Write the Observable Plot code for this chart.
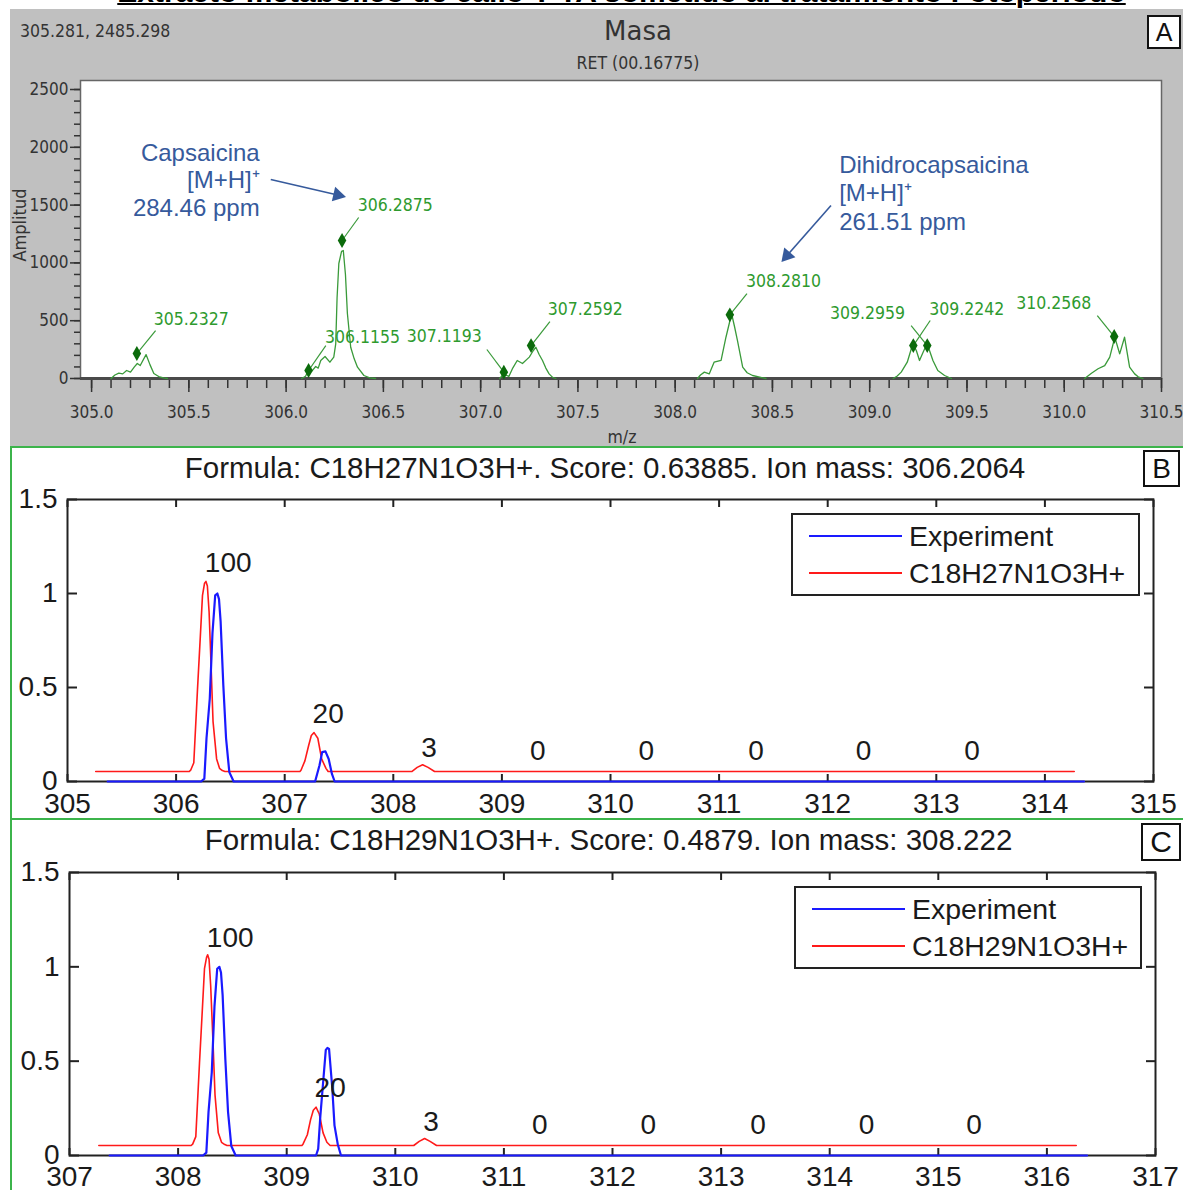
<!DOCTYPE html>
<html><head><meta charset="utf-8">
<script src="https://cdn.jsdelivr.net/npm/d3@7"></script>
<script src="https://cdn.jsdelivr.net/npm/@observablehq/plot@0.6"></script>
<style>
body{margin:0;background:#fff;}
#root{position:relative;width:1183px;height:1190px;overflow:hidden;background:#fff;font-family:"Liberation Sans",Arial,sans-serif;}
.abs{position:absolute;}
.narrow{font-family:"Liberation Sans Narrow","DejaVu Sans Condensed",sans-serif;}
.arial{font-family:"Liberation Sans",Arial,sans-serif;}
svg{overflow:visible;}
</style></head><body><div id="root"></div>
<script>
// ---------- Panel A : mass spectrum ----------
const specMz = [
 [305.10,305.12,305.14,305.16,305.18,305.20,305.22,305.235,305.25,305.28,305.30,305.32,305.345,305.37,305.39],
 [306.08,306.10,306.114,306.13,306.152,306.165,306.178,306.20,306.225,306.245,306.255,306.262,306.271,306.285,306.294,306.305,306.315,306.332,306.35,306.367,306.40,306.43,306.46],
 [307.098,307.118,307.145,307.165,307.188,307.215,307.25,307.27,307.284,307.30,307.318,307.335,307.352,307.37,307.387],
 [308.115,308.13,308.15,308.175,308.20,308.236,308.261,308.29,308.305,308.32,308.347,308.37,308.398,308.467],
 [309.12,309.14,309.162,309.193,309.222,309.24,309.256,309.275,309.295,309.325,309.35,309.385,309.42],
 [310.105,310.14,310.174,310.208,310.234,310.26,310.285,310.31,310.336,310.362,310.38,310.405]
];
const specAmp = [
 [0,30,46,40,69,55,100,130,112,207,120,43,17,5,0],
 [0,20,69,60,104,90,156,190,141,185,300,700,995,1100,1107,900,562,270,170,98,26,5,0],
 [0,40,17,90,156,130,185,240,271,210,156,90,40,10,0],
 [0,30,55,40,141,156,357,560,450,329,98,50,26,0],
 [0,20,55,141,303,240,156,230,303,156,69,26,0],
 [0,46,84,112,185,357,213,357,98,40,15,0]
];
const peakLabels = ["305.2327","306.1155","306.2875","307.1193","307.2592","308.2810","309.2242","309.2959","310.2568"];
const peakMz  = [305.2327,306.1155,306.2875,307.1193,307.2592,308.2810,309.2242,309.2959,310.2568];
const peakAmp = [216,69,1194,55,285,551,285,285,363];
// label anchors (data units)
const leadMz  = [305.329,306.204,306.373,307.032,307.356,308.369,309.311,309.213,310.17];
const leadAmp = [415,285,1393,251,493,735,502,458,545];
const tagMz   = [305.319,306.200,306.368,307.006,307.345,308.364,309.306,309.182,310.139];
const tagAmp  = [510,355,1497,363,597,839,597,562,649];
const tagSide = ["start","start","start","end","start","start","start","end","end"];

const noteText = ["Capsaicina","[M+H]⁺","284.46 ppm","Dihidrocapsaicina","[M+H]⁺","261.51 ppm"];
const noteMz   = [305.864,305.864,305.864,308.843,308.843,308.843];
const noteAmp  = [1946,1713,1471,1842,1600,1349];
const noteSide = ["end","end","end","start","start","start"];
const arrowFromMz = [305.921,308.801], arrowFromAmp = [1721,1496];
const arrowToMz   = [306.265,308.575], arrowToAmp   = [1587,1064];
const arrowRot    = [103,221];

const aMajorX = [305.0,305.5,306.0,306.5,307.0,307.5,308.0,308.5,309.0,309.5,310.0,310.5];
const aMajorY = [0,500,1000,1500,2000,2500];

// ---------- Panel B : C18H27N1O3H+ ----------
const bRedMz  = [305.26,306.12,306.134,306.163,306.197,306.222,306.243,306.262,306.275,306.288,306.304,306.32,306.34,306.373,306.40,306.426,306.45,307.14,307.15,307.186,307.22,307.245,307.27,307.305,307.34,307.38,307.40,308.17,308.22,308.27,308.32,308.38,314.27];
const bRedInt = [0.053,0.053,0.06,0.10,0.49,0.76,0.99,1.055,1.064,1.04,0.90,0.65,0.32,0.12,0.07,0.058,0.053,0.053,0.06,0.11,0.19,0.245,0.26,0.23,0.12,0.07,0.053,0.053,0.075,0.089,0.075,0.053,0.053];
const bBlueMz  = [305.37,306.23,306.26,306.28,306.31,306.335,306.36,306.38,306.395,306.41,306.435,306.46,306.49,306.53,307.28,307.32,307.345,307.375,307.405,307.435,307.46,314.36];
const bBlueInt = [0,0,0.015,0.23,0.44,0.79,0.99,1.0,0.97,0.85,0.51,0.23,0.05,0,0,0.085,0.156,0.16,0.12,0.04,0,0];
const bLabelText = ["100","20","3","0","0","0","0","0"];
const bLabelMz   = [306.48,307.40,308.33,309.33,310.33,311.34,312.33,313.33];
const bLabelInt  = [1.16,0.36,0.18,0.16,0.16,0.16,0.16,0.16];
const bTicksX = [305,306,307,308,309,310,311,312,313,314,315];

// ---------- Panel C : C18H29N1O3H+ ----------
const cRedMz  = [307.27,308.12,308.134,308.163,308.197,308.222,308.243,308.262,308.272,308.285,308.30,308.318,308.34,308.37,308.40,308.43,308.45,309.14,309.15,309.19,309.22,309.245,309.27,309.30,309.335,309.37,309.40,310.17,310.22,310.27,310.32,310.38,316.27];
const cRedInt = [0.053,0.053,0.06,0.10,0.49,0.76,0.99,1.05,1.064,1.04,0.90,0.65,0.32,0.12,0.07,0.058,0.053,0.053,0.06,0.11,0.19,0.24,0.256,0.22,0.12,0.07,0.053,0.053,0.075,0.09,0.075,0.053,0.053];
const cBlueMz  = [307.37,308.23,308.26,308.28,308.31,308.335,308.36,308.38,308.395,308.41,308.435,308.46,308.49,308.53,309.27,309.29,309.31,309.34,309.36,309.375,309.39,309.42,309.44,309.47,309.50,316.37];
const cBlueInt = [0,0,0.015,0.23,0.44,0.79,0.99,1.0,0.97,0.85,0.51,0.23,0.05,0,0,0.035,0.21,0.42,0.56,0.57,0.565,0.355,0.16,0.06,0,0];
const cLabelText = ["100","20","3","0","0","0","0","0"];
const cLabelMz   = [308.48,309.40,310.33,311.33,312.33,313.34,314.34,315.33];
const cLabelInt  = [1.155,0.36,0.18,0.16,0.16,0.16,0.16,0.16];
const cTicksX = [307,308,309,310,311,312,313,314,315,316,317];
const isoTicksY = [0,0.5,1,1.5];

// ---------- build ----------
const NARROW = "'Liberation Sans Narrow','DejaVu Sans Condensed',sans-serif";
const ARIAL = "'Liberation Sans',Arial,sans-serif";
const BLUE_NOTE = "#365a9c";
const GREEN = "#3a9a3a";
const root = document.getElementById("root");
function add(html){ root.insertAdjacentHTML("beforeend", html); }

const specRows = specMz.flatMap((arr, s) => arr.map((m, i) => ({seg: s, mz: m, amp: specAmp[s][i]})));
const peakRows = peakMz.map((m, i) => ({mz: m, amp: peakAmp[i], lx: leadMz[i], ly: leadAmp[i], tx: tagMz[i], ty: tagAmp[i], side: tagSide[i], label: peakLabels[i]}));
const noteRows = noteText.map((t, i) => ({t, mz: noteMz[i], amp: noteAmp[i], side: noteSide[i]}));
const arrowRows = arrowFromMz.map((m, i) => ({x1: m, y1: arrowFromAmp[i], x2: arrowToMz[i], y2: arrowToAmp[i], rot: arrowRot[i]}));

// title strip (cut off at top, as in the source figure)
add(`<div class="abs" style="left:0;top:0;width:1183px;height:9px;overflow:hidden;"><div class="arial" style="position:absolute;left:0;width:1243px;top:-23px;text-align:center;font-weight:bold;font-size:30px;line-height:30px;text-decoration:underline;text-decoration-thickness:2px;white-space:nowrap;color:#000;">Extracto metabólico de callo T-TA sometido al tratamiento Fotoperiodo</div></div>`);

// Panel A background and header texts
add(`<div class="abs" style="left:10px;top:9px;width:1173px;height:437px;background:#c0c0c0;"></div>`);
add(`<div class="abs narrow" style="left:20px;top:20px;font-size:17.5px;line-height:22px;color:#333;white-space:nowrap;">305.281, 2485.298</div>`);
add(`<div class="abs" style="left:538px;top:15px;width:200px;text-align:center;font-family:'DejaVu Sans',sans-serif;font-size:26px;line-height:32px;color:#333;">Masa</div>`);
add(`<div class="abs narrow" style="left:538px;top:52px;width:200px;text-align:center;font-size:17.5px;line-height:22px;color:#333;">RET (00.16775)</div>`);
add(`<div class="abs arial" style="left:1147px;top:15px;width:34px;height:34px;box-sizing:border-box;border:2px solid #111;background:#fff;text-align:center;font-size:25px;line-height:30px;color:#111;">A</div>`);

const plotA = Plot.plot({
  width: 1173, height: 375, marginLeft: 70, marginRight: 22, marginTop: 10, marginBottom: 67,
  style: {background: "transparent", fontFamily: NARROW, fontSize: "17px", color: "#333"},
  x: {domain: [304.943, 310.5]},
  y: {domain: [0, 2578]},
  marks: [
    Plot.frame({fill: "white", stroke: "#666", strokeWidth: 1.5}),
    Plot.axisY({ticks: d3.range(0, 2501, 100), tickSize: 6, fill: "none", stroke: "#333", strokeWidth: 1.5, label: null}),
    Plot.axisY({ticks: aMajorY, tickSize: 10, tickPadding: 2, stroke: "#333", strokeWidth: 1.5, fill: "#333", label: null, tickFormat: d => String(d)}),
    Plot.axisX({ticks: d3.range(305, 310.55, 0.1), tickSize: 10, fill: "none", stroke: "#333", strokeWidth: 1.5, label: null}),
    Plot.axisX({ticks: aMajorX, tickSize: 14, tickPadding: 13, stroke: "#333", strokeWidth: 1.5, fill: "#333", label: null, tickFormat: d3.format(".1f")}),
    Plot.ruleY([0], {stroke: "#4a4a4a", strokeWidth: 3}),
    Plot.line(specRows, {x: "mz", y: "amp", z: "seg", stroke: GREEN, strokeWidth: 1.3}),
    Plot.link(peakRows, {x1: "mz", y1: "amp", x2: "lx", y2: "ly", stroke: GREEN, strokeWidth: 1.2}),
    Plot.dot(peakRows, {x: "mz", y: "amp", symbol: "diamond", r: 4.5, fill: "#0b6b0b", stroke: "none"}),
    Plot.text(peakRows.filter(d => d.side === "start"), {x: "tx", y: "ty", text: "label", textAnchor: "start", fill: "#2e9a2e", fontSize: 17.5, fontFamily: NARROW}),
    Plot.text(peakRows.filter(d => d.side === "end"), {x: "tx", y: "ty", text: "label", textAnchor: "end", fill: "#2e9a2e", fontSize: 17.5, fontFamily: NARROW}),
    Plot.link(arrowRows, {x1: "x1", y1: "y1", x2: "x2", y2: "y2", stroke: BLUE_NOTE, strokeWidth: 1.6}),
    Plot.dot(arrowRows, {x: "x2", y: "y2", symbol: "triangle", r: 5.5, fill: BLUE_NOTE, stroke: "none", rotate: "rot"}),
    Plot.text(noteRows.filter(d => d.side === "end"), {x: "mz", y: "amp", text: "t", textAnchor: "end", fill: BLUE_NOTE, fontSize: 24, fontFamily: ARIAL}),
    Plot.text(noteRows.filter(d => d.side === "start"), {x: "mz", y: "amp", text: "t", textAnchor: "start", fill: BLUE_NOTE, fontSize: 24, fontFamily: ARIAL})
  ]
});
const wrapA = document.createElement("div");
wrapA.className = "abs"; wrapA.style.left = "10px"; wrapA.style.top = "70px";
wrapA.appendChild(plotA); root.appendChild(wrapA);
add(`<div class="abs narrow" style="left:-30px;top:214px;width:100px;text-align:center;font-size:18px;line-height:22px;color:#333;transform:rotate(-90deg);">Amplitud</div>`);
add(`<div class="abs narrow" style="left:572px;top:426px;width:100px;text-align:center;font-size:17.5px;line-height:22px;color:#333;">m/z</div>`);

// ---------- isotope panels ----------
function isoPlot(red, blue, labels, xDomain, xTicks, m) {
  const axisStyle = {stroke: "#222", strokeWidth: 2, fill: "none", label: null};
  return Plot.plot({
    width: 1173, height: 330, marginLeft: m.l, marginRight: m.r, marginTop: m.t, marginBottom: m.b,
    style: {background: "transparent", fontFamily: ARIAL, fontSize: "28px", color: "#1a1a1a"},
    x: {domain: xDomain}, y: {domain: [0, 1.5]},
    marks: [
      Plot.frame({stroke: "#222", strokeWidth: 2}),
      Plot.axisX({anchor: "bottom", ticks: xTicks, tickSize: -7, ...axisStyle}),
      Plot.axisX({anchor: "top", ticks: xTicks, tickSize: -7, ...axisStyle}),
      Plot.axisY({anchor: "left", ticks: isoTicksY, tickSize: -10, ...axisStyle}),
      Plot.axisY({anchor: "right", ticks: isoTicksY, tickSize: -10, ...axisStyle}),
      Plot.axisX({anchor: "bottom", ticks: xTicks, tickSize: 0, tickPadding: m.pad, stroke: "none", fill: "#1a1a1a", label: null, tickFormat: d => String(d)}),
      Plot.axisY({anchor: "left", ticks: isoTicksY, tickSize: 0, tickPadding: 10, stroke: "none", fill: "#1a1a1a", label: null, tickFormat: d => String(d)}),
      Plot.line(red, {x: "mz", y: "v", stroke: "#ff1a1a", strokeWidth: 1.6}),
      Plot.line(blue, {x: "mz", y: "v", stroke: "#1a1aff", strokeWidth: 2.2}),
      Plot.text(labels, {x: "mz", y: "v", text: "t", fill: "#1a1a1a", fontSize: 28})
    ]
  });
}
function rows(mz, v) { return mz.map((m, i) => ({mz: m, v: v[i]})); }
function legend(left, top, w, h, formula) {
  add(`<div class="abs arial" style="left:${left}px;top:${top}px;width:${w}px;height:${h}px;box-sizing:border-box;border:2px solid #222;background:#fff;">
    <div class="abs" style="left:16px;top:20px;width:93px;height:2px;background:#1a1aff;"></div>
    <div class="abs" style="left:116px;top:5px;font-size:28.5px;line-height:32px;color:#1a1a1a;white-space:nowrap;">Experiment</div>
    <div class="abs" style="left:16px;top:57px;width:93px;height:2px;background:#ff1a1a;"></div>
    <div class="abs" style="left:116px;top:42px;font-size:28.5px;line-height:32px;color:#1a1a1a;white-space:nowrap;">${formula}</div>
  </div>`);
}

// Panel B
add(`<div class="abs" style="left:10px;top:446px;width:1173px;height:373px;box-sizing:border-box;border-left:2px solid #3cb44b;border-top:2px solid #3cb44b;"></div>`);
add(`<div class="abs arial" style="left:0;top:451px;width:1210px;text-align:center;font-size:29.5px;line-height:34px;color:#1a1a1a;white-space:nowrap;">Formula: C18H27N1O3H+. Score: 0.63885. Ion mass: 306.2064</div>`);
const plotB = isoPlot(rows(bRedMz, bRedInt), rows(bBlueMz, bBlueInt),
  bLabelText.map((t, i) => ({t, mz: bLabelMz[i], v: bLabelInt[i]})), [305, 315], bTicksX, {l: 57, r: 30, t: 11, b: 37, pad: 12});
const wrapB = document.createElement("div");
wrapB.className = "abs"; wrapB.style.left = "10px"; wrapB.style.top = "488px";
wrapB.appendChild(plotB); root.appendChild(wrapB);
legend(791, 513, 349, 83, "C18H27N1O3H+");
add(`<div class="abs arial" style="left:1143px;top:450px;width:37px;height:37px;box-sizing:border-box;border:2px solid #111;background:#fff;text-align:center;font-size:28px;line-height:33px;color:#111;">B</div>`);

// Panel C
add(`<div class="abs" style="left:10px;top:818px;width:1173px;height:372px;box-sizing:border-box;border-left:2px solid #3cb44b;border-top:2px solid #3cb44b;"></div>`);
add(`<div class="abs arial" style="left:0;top:823px;width:1217px;text-align:center;font-size:29.5px;line-height:34px;color:#1a1a1a;white-space:nowrap;">Formula: C18H29N1O3H+. Score: 0.4879. Ion mass: 308.222</div>`);
const plotC = isoPlot(rows(cRedMz, cRedInt), rows(cBlueMz, cBlueInt),
  cLabelText.map((t, i) => ({t, mz: cLabelMz[i], v: cLabelInt[i]})), [307, 317], cTicksX, {l: 59, r: 28, t: 12, b: 35, pad: 11});
const wrapC = document.createElement("div");
wrapC.className = "abs"; wrapC.style.left = "10px"; wrapC.style.top = "860px";
wrapC.appendChild(plotC); root.appendChild(wrapC);
legend(794, 886, 348, 83, "C18H29N1O3H+");
add(`<div class="abs arial" style="left:1141px;top:823px;width:40px;height:38px;box-sizing:border-box;border:2px solid #111;background:#fff;text-align:center;font-size:30px;line-height:34px;color:#111;">C</div>`);
</script></body></html>
